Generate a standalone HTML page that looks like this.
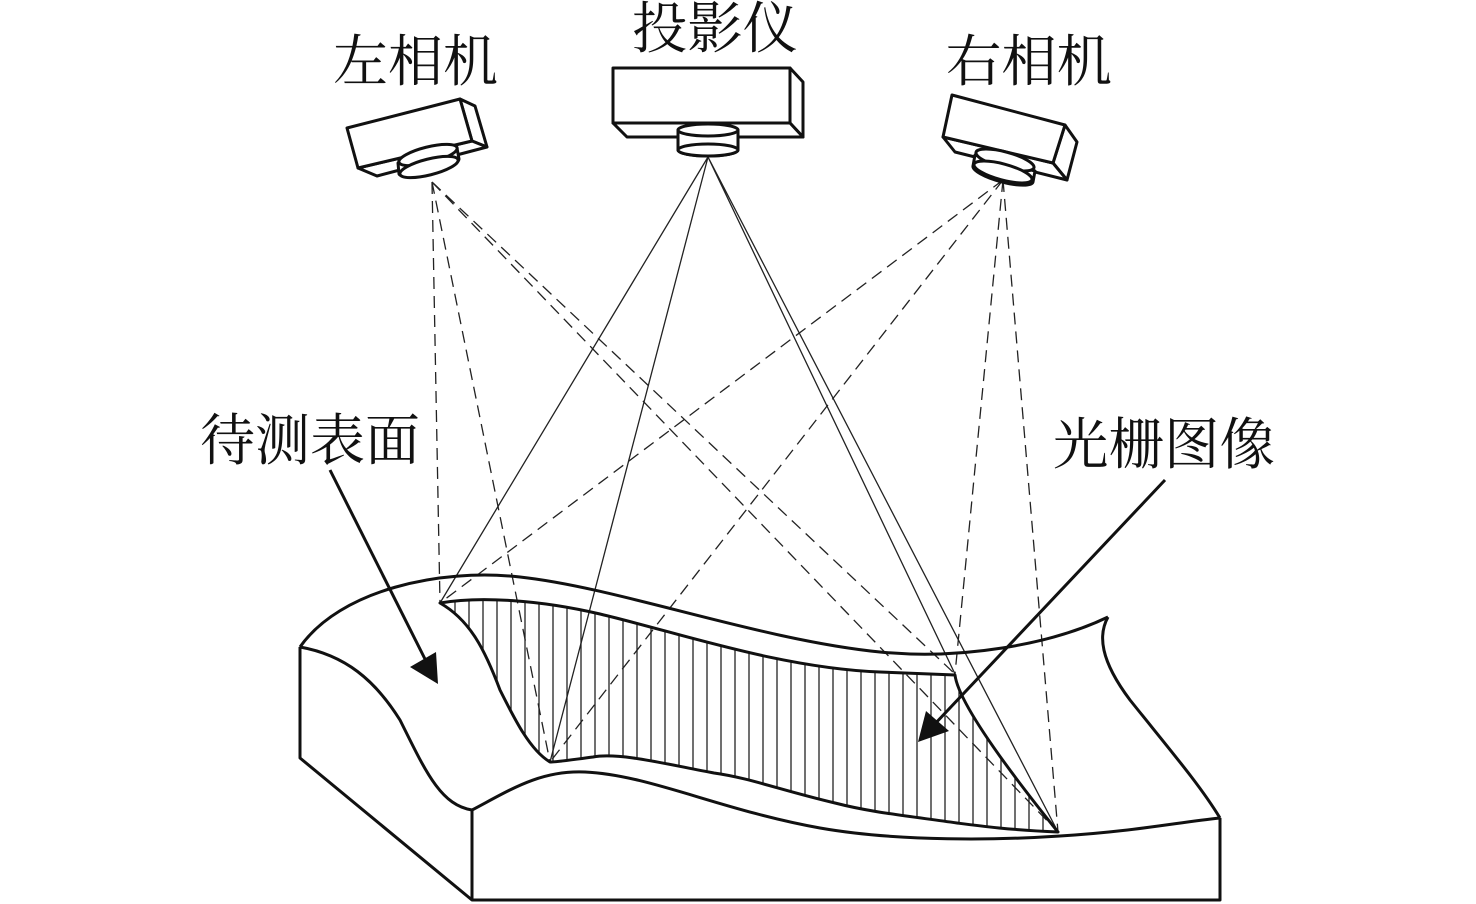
<!DOCTYPE html>
<html><head><meta charset="utf-8"><style>html,body{margin:0;padding:0;background:#fff}svg{display:block}</style></head>
<body>
<svg width="1476" height="904" viewBox="0 0 1476 904" xmlns="http://www.w3.org/2000/svg">
<defs>
<clipPath id="strip"><path d="M440,603 C480,596 540,600 600,614 C680,633 780,668 880,672 L955,675 C958,700 1000,760 1058,832 C1010,830 980,826 957,823 C900,815 870,812 835,803 C780,790 750,778 714,773 C670,765 620,752 593,757 C570,760 558,762 550,762 C530,750 515,720 500,690 C485,650 470,620 440,603 Z"/></clipPath>
</defs>
<g font-family="'Liberation Serif','Noto Serif CJK SC',serif" font-size="56" fill="#111">
<text x="333" y="81" textLength="165" lengthAdjust="spacingAndGlyphs">左相机</text>
<text x="632" y="48" textLength="166" lengthAdjust="spacingAndGlyphs">投影仪</text>
<text x="946" y="81" textLength="166" lengthAdjust="spacingAndGlyphs">右相机</text>
<text x="200" y="460" textLength="220" lengthAdjust="spacingAndGlyphs">待测表面</text>
<text x="1053" y="464" textLength="222" lengthAdjust="spacingAndGlyphs">光栅图像</text>
</g>
<g clip-path="url(#strip)" stroke="#222" stroke-width="1.3">
<path d="M441,580V850M455,580V850M469,580V850M483,580V850M497,580V850M511,580V850M525,580V850M539,580V850M553,580V850M567,580V850M581,580V850M595,580V850M609,580V850M623,580V850M637,580V850M651,580V850M665,580V850M679,580V850M693,580V850M707,580V850M721,580V850M735,580V850M749,580V850M763,580V850M777,580V850M791,580V850M805,580V850M819,580V850M833,580V850M847,580V850M861,580V850M875,580V850M889,580V850M903,580V850M917,580V850M931,580V850M945,580V850M959,580V850M973,580V850M987,580V850M1001,580V850M1015,580V850M1029,580V850M1043,580V850M1057,580V850"/>
</g>
<g stroke="#222" stroke-width="1.3" fill="none">
<path d="M708,157 L440,603 M708,157 L550,762 M708,157 L955,674 M708,157 L1058,832"/>
</g>
<g stroke="#222" stroke-width="1.3" fill="none" stroke-dasharray="12,7">
<path d="M432,182 L440,603 M432,182 L550,762 M432,182 L955,674 M432,182 L1058,832"/>
<path d="M1003,180 L440,603 M1003,180 L550,762 M1003,180 L955,674 M1003,180 L1058,832"/>
</g>
<g stroke="#111" stroke-width="3" fill="none" stroke-linejoin="round">
<path d="M300,647 C340,590 440,568 520,577 C620,588 760,640 880,652 C960,660 1050,645 1108,617"/>
<path d="M1108,617 C1098,635 1100,660 1130,700 C1170,750 1200,785 1220,818"/>
<path d="M300,647 L300,758 L472,900 L1220,900 L1220,818"/>
<path d="M300,647 C345,655 375,680 400,720 C425,770 440,805 472,810"/>
<path d="M472,810 L472,900"/>
<path d="M472,810 C510,790 540,770 585,772 C650,775 720,810 820,828 C900,842 1000,840 1060,836 C1130,832 1180,822 1220,818"/>
<path d="M440,603 C480,596 540,600 600,614 C680,633 780,668 880,672 L955,675 C958,700 1000,760 1058,832 C1010,830 980,826 957,823 C900,815 870,812 835,803 C780,790 750,778 714,773 C670,765 620,752 593,757 C570,760 558,762 550,762 C530,750 515,720 500,690 C485,650 470,620 440,603 Z"/>
</g>
<g stroke="#111" stroke-width="3" fill="#111">
<line x1="330" y1="470" x2="428" y2="665"/>
<polygon points="438,684 410,667 436,652" stroke="none"/>
<line x1="1165" y1="480" x2="932" y2="727"/>
<polygon points="918,742 926,711 949,731" stroke="none"/>
</g>
<g stroke="#111" stroke-width="3" fill="#fff" stroke-linejoin="round">
<polygon points="460,99 475,106 487,147 472,141"/>
<polygon points="358,168 377,176 487,147 472,141"/>
<polygon points="347,128 460,99 472,141 358,168"/>
<path d="M398,163 L399,174 A31,8 -14 0 0 459,159 L457,148 Z"/>
<ellipse cx="428" cy="155" rx="30" ry="8" transform="rotate(-14 428 155)"/>
<ellipse cx="429" cy="167" rx="30" ry="8" transform="rotate(-14 429 167)"/>
<polygon points="790,68 803,82 803,137 790,123"/>
<polygon points="613,123 627,137 803,137 790,123"/>
<rect x="613" y="68" width="177" height="55"/>
<path d="M678,130 L678,150 A30,6 0 0 0 738,150 L738,130 Z"/>
<ellipse cx="708" cy="130" rx="30" ry="6"/>
<ellipse cx="708" cy="150" rx="30" ry="6"/>
<polygon points="1065,125 1077,142 1067,180 1053,163"/>
<polygon points="943,137 955,152 1067,180 1053,163"/>
<polygon points="952,95 1065,125 1053,163 943,137"/>
<path d="M975,155 L973,166 A31,8 15 0 0 1033,182 L1035,171 Z"/>
<ellipse cx="1005" cy="160" rx="30" ry="8" transform="rotate(15 1005 160)"/>
<ellipse cx="1003" cy="172" rx="30" ry="8" transform="rotate(15 1003 172)"/>
</g>
</svg>
</body></html>
